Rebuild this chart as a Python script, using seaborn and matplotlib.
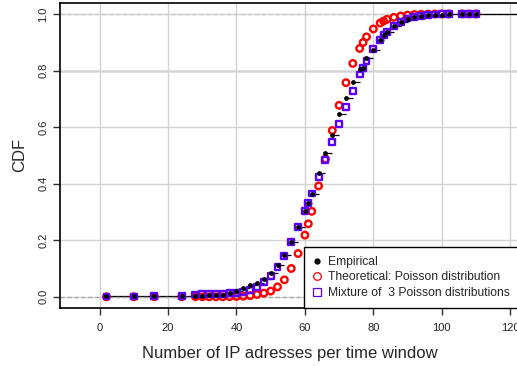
import matplotlib
matplotlib.use("Agg")
import matplotlib.pyplot as plt
from matplotlib.lines import Line2D
import seaborn as sns

# values
x_vals = [2, 10, 16, 24, 28, 30, 32, 34, 36, 38, 40, 42, 44, 46, 48, 50, 52, 54, 56, 58,
          60, 61, 62, 64, 66, 68, 70, 72, 74, 76, 77, 78, 80, 82, 83, 84, 86, 88, 90, 92,
          94, 96, 98, 100, 102, 106, 108, 110]

empirical = [0.001, 0.001, 0.002, 0.002, 0.003, 0.004, 0.005, 0.006, 0.008, 0.012,
             0.020, 0.031, 0.040, 0.048, 0.062, 0.085, 0.114, 0.146, 0.194, 0.247,
             0.303, 0.333, 0.365, 0.437, 0.507, 0.571, 0.645, 0.703, 0.760, 0.806,
             0.808, 0.846, 0.874, 0.909, 0.925, 0.936, 0.958, 0.972, 0.983, 0.989,
             0.993, 0.996, 0.997, 0.998, 0.999, 0.9995, 0.9998, 1.0]

theoretical = [0.0, 0.0, 0.0, 0.0, 0.0, 0.0, 0.0, 0.0, 0.0, 0.0005,
               0.001, 0.002, 0.004, 0.008, 0.013, 0.020, 0.035, 0.060, 0.100, 0.153,
               0.218, 0.258, 0.302, 0.392, 0.487, 0.588, 0.677, 0.757, 0.825, 0.878,
               0.899, 0.919, 0.947, 0.968, 0.975, 0.981, 0.988, 0.993, 0.996, 0.998,
               0.999, 0.9995, 1.0, 1.0, 1.0, 1.0, 1.0, 1.0]

mixture = [0.001, 0.001, 0.002, 0.003, 0.008, 0.009, 0.010, 0.010, 0.011, 0.013,
           0.014, 0.017, 0.024, 0.036, 0.052, 0.074, 0.106, 0.145, 0.193, 0.247,
           0.303, 0.332, 0.365, 0.424, 0.485, 0.548, 0.610, 0.671, 0.729, 0.786,
           0.809, 0.834, 0.875, 0.908, 0.925, 0.935, 0.958, 0.972, 0.984, 0.989,
           0.994, 0.997, 0.998, 0.999, 0.9995, 1.0, 1.0, 1.0]

labels = ["Empirical", "Theoretical: Poisson distribution", "Mixture of  3 Poisson distributions"]

sns.set_style("white")
plt.rcParams['font.family'] = ['Liberation Sans', 'DejaVu Sans']

fig = plt.figure(figsize=(5.17, 3.66), dpi=100)
ax = fig.add_axes([0.116, 0.159, 0.888, 0.833])
xmin, xmax = -11.6, 122.6
ax.set_xlim(xmin, xmax)
ax.set_ylim(-0.039, 1.039)

# grid
ax.set_xticks(range(0, 121, 20))
ax.set_yticks([0.0, 0.2, 0.4, 0.6, 0.8, 1.0])
ax.set_yticklabels(["0.0", "0.2", "0.4", "0.6", "0.8", "1.0"])
ax.grid(True, color='#d3d3d3', lw=1)
ax.set_axisbelow(True)
ax.axhline(0.8, color='#e4e4e4', lw=2.2, zorder=0.5)

# ecdf steps
x_next = x_vals[1:] + [xmax]
ax.hlines(empirical, x_vals, x_next, color='black', lw=0.9, zorder=2)
ax.axhline(0, color='#a8a8a8', lw=1, ls=(0, (3, 2)), zorder=2.5)
ax.axhline(1, color='#c8c8c8', lw=1, ls=(0, (3, 2)), zorder=1)

sns.scatterplot(x=x_vals, y=theoretical, ax=ax, marker='o', s=22,
                facecolor='none', edgecolor='red', linewidth=1.7, zorder=3)
sns.scatterplot(x=x_vals, y=mixture, ax=ax, marker='s', s=18,
                facecolor='none', edgecolor='#5c00f5', linewidth=1.7, zorder=3)
sns.scatterplot(x=x_vals, y=empirical, ax=ax, color='black', s=12,
                linewidth=0, zorder=4)

for side in ['left', 'bottom', 'top', 'right']:
    ax.spines[side].set_color('black')
    ax.spines[side].set_linewidth(1.2)

ax.tick_params(axis='both', length=5, width=1, color='#333333', labelsize=8,
               labelcolor='#222222', direction='out', left=True, bottom=True)
ax.tick_params(axis='x', pad=6)
ax.tick_params(axis='y', pad=3.5)
for t in ax.get_yticklabels():
    t.set_rotation(90)
    t.set_va('center')

ax.set_xlabel("Number of IP adresses per time window", fontsize=12, labelpad=9)
ax.set_ylabel("CDF", fontsize=12, labelpad=8)

handles = [
    Line2D([], [], ls='none', marker='o', color='black', markersize=3.5),
    Line2D([], [], ls='none', marker='o', mfc='none', mec='red', markersize=5.5, mew=0.9),
    Line2D([], [], ls='none', marker='s', mfc='none', mec='#5c00f5', markersize=5.5, mew=0.9),
]
leg = ax.legend(handles, labels, loc='lower right', frameon=True, fancybox=False,
                edgecolor='black', framealpha=1, borderaxespad=0, fontsize=8.7,
                handletextpad=0.62, borderpad=0.75, labelspacing=0.28, handlelength=0.6)
leg.get_frame().set_linewidth(1)
leg.set_zorder(5)

fig.savefig("out.png", dpi=100)
